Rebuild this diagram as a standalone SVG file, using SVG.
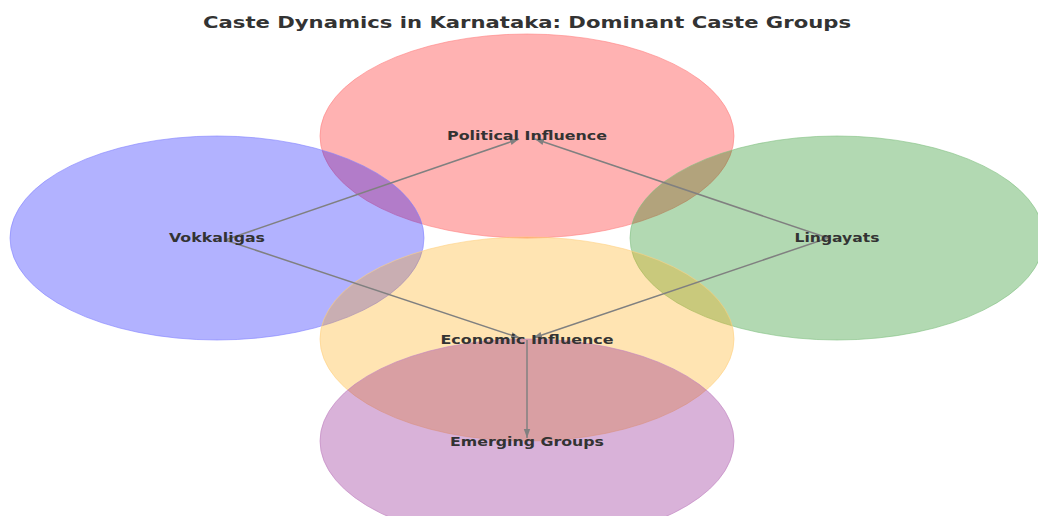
<svg xmlns="http://www.w3.org/2000/svg" width="1038" height="516" viewBox="0 0 1038 516">
<style>
.c{stroke-width:1;stroke-opacity:0.6}
.t{font-family:"DejaVu Sans",sans-serif;font-weight:bold;font-size:12.5px;fill:#333;text-anchor:middle;dominant-baseline:central}
.e{stroke:#808080;stroke-width:1.5;fill:none}
</style>
<defs>
<marker id="a" markerWidth="10" markerHeight="8" refX="9" refY="4" orient="auto" markerUnits="userSpaceOnUse">
<path d="M0,0.8 L9,4 L0,7.2 Z" fill="#808080"/>
</marker>
</defs>
<rect width="1038" height="516" fill="#fff"/>
<text x="527" y="22" textLength="648" lengthAdjust="spacingAndGlyphs" font-family="DejaVu Sans, sans-serif" font-weight="bold" font-size="16.5" fill="#333" text-anchor="middle" dominant-baseline="central">Caste Dynamics in Karnataka: Dominant Caste Groups</text>
<g id="political"><ellipse cx="527" cy="136" rx="207" ry="102" fill="#ff0000" fill-opacity="0.3" class="c" stroke="#ff8080"/></g>
<g id="vokkaligas"><ellipse cx="217" cy="238" rx="207" ry="102" fill="#0000ff" fill-opacity="0.3" class="c" stroke="#8080ff"/></g>
<g id="lingayats"><ellipse cx="837" cy="238" rx="207" ry="102" fill="#008000" fill-opacity="0.3" class="c" stroke="#80c080"/></g>
<g id="economic"><ellipse cx="527" cy="339" rx="207" ry="102" fill="#ffa500" fill-opacity="0.3" class="c" stroke="#ffd080"/></g>
<g id="emerging"><ellipse cx="527" cy="441" rx="207" ry="102" fill="#800080" fill-opacity="0.3" class="c" stroke="#c080c0"/></g>
<g id="connectors">
<line class="e" x1="225" y1="240" x2="519" y2="139" marker-end="url(#a)"/>
<line class="e" x1="828" y1="238" x2="535" y2="139" marker-end="url(#a)"/>
<line class="e" x1="225" y1="240" x2="520" y2="338" marker-end="url(#a)"/>
<line class="e" x1="828" y1="238" x2="533" y2="338" marker-end="url(#a)"/>
<line class="e" x1="527" y1="340" x2="527" y2="438" marker-end="url(#a)"/>
</g>
<text class="t" x="527" y="135" textLength="160" lengthAdjust="spacingAndGlyphs">Political Influence</text>
<text class="t" x="217" y="237" textLength="96" lengthAdjust="spacingAndGlyphs">Vokkaligas</text>
<text class="t" x="837" y="237" textLength="85" lengthAdjust="spacingAndGlyphs">Lingayats</text>
<text class="t" x="527" y="339" textLength="173" lengthAdjust="spacingAndGlyphs">Economic Influence</text>
<text class="t" x="527" y="441" textLength="154" lengthAdjust="spacingAndGlyphs">Emerging Groups</text>
</svg>
